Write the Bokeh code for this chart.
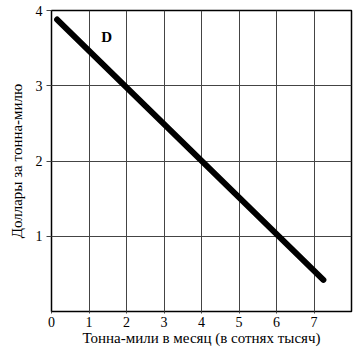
from bokeh.plotting import figure
from bokeh.models import Range1d, FixedTicker, Label
from bokeh.embed import file_html
from bokeh.resources import INLINE

# data
demand_x = [0.15, 7.25]
demand_y = [3.88, 0.42]
x_ticks = [0, 1, 2, 3, 4, 5, 6, 7]
y_ticks = [1, 2, 3, 4]
x_label = "Тонна-мили в месяц (в сотнях тысяч)"
y_label = "Доллары за тонна-милю"
curve_label = "D"

FONT = "'Liberation Serif', 'DejaVu Serif', serif"

p = figure(width=364, height=351, output_backend="svg", toolbar_location=None,
           x_range=Range1d(0, 8), y_range=Range1d(0, 4))
p.min_border_left = 51
p.min_border_right = 13
p.min_border_top = 10
p.min_border_bottom = 40
p.background_fill_color = "white"
p.border_fill_color = "white"
p.outline_line_color = "black"
p.outline_line_width = 1.5

p.xaxis.ticker = FixedTicker(ticks=x_ticks)
p.yaxis.ticker = FixedTicker(ticks=y_ticks)
p.xgrid.ticker = FixedTicker(ticks=[1, 2, 3, 4, 5, 6, 7])
p.ygrid.ticker = FixedTicker(ticks=[1, 2, 3])
for g in (p.xgrid, p.ygrid):
    g.grid_line_color = "#444444"
    g.grid_line_width = 1

for ax in (p.xaxis, p.yaxis):
    ax.axis_line_color = None
    ax.minor_tick_line_color = None
    ax.major_tick_line_color = "#444444"
    ax.major_tick_in = 0
    ax.major_label_text_font = FONT
    ax.major_label_text_font_size = "14px"
    ax.major_label_text_color = "black"
    ax.axis_label_text_font = FONT
    ax.axis_label_text_font_size = "15px"
    ax.axis_label_text_font_style = "normal"
    ax.axis_label_text_color = "black"

p.xaxis.major_tick_out = 2
p.yaxis.major_tick_out = 5
p.xaxis.major_label_standoff = 3
p.yaxis.major_label_standoff = 4
p.xaxis.axis_label = x_label
p.yaxis.axis_label = y_label
p.xaxis.axis_label_standoff = 0
p.yaxis.axis_label_standoff = 8

p.line(demand_x, demand_y, line_color="black", line_width=6, line_cap="round")

p.add_layout(Label(x=1.47, y=3.65, text=curve_label, text_font=FONT,
                   text_font_size="15px", text_font_style="bold",
                   text_align="center", text_baseline="middle", text_color="black"))

open("out.html", "w").write(file_html(p, INLINE))
